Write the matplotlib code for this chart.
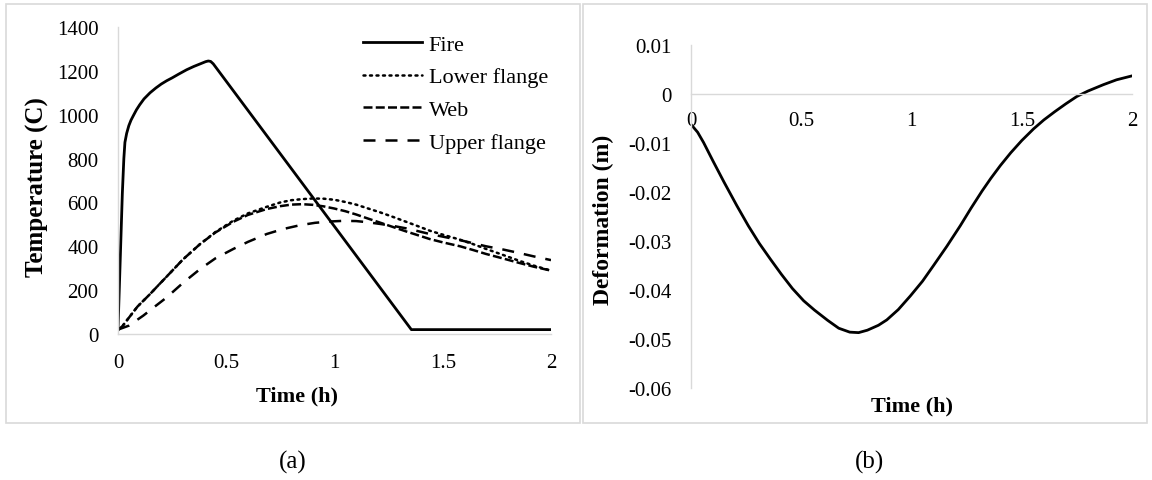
import matplotlib
matplotlib.use("Agg")
import matplotlib.pyplot as plt
from matplotlib.patches import Rectangle

plt.rcParams["font.family"] = ["Liberation Serif", "DejaVu Serif"]

# (a) temperatures
fire_t = [0, 0.01, 0.02, 0.027, 0.032, 0.04, 0.05, 0.06, 0.071, 0.085, 0.1, 0.12, 0.148, 0.175, 0.2,
          0.225, 0.25, 0.28, 0.317, 0.35, 0.38, 0.405, 0.417, 0.428, 0.44, 1.355, 2.0]
fire_T = [20, 330, 640, 800, 874, 915, 950, 975, 996, 1022, 1045, 1072, 1100, 1122, 1140,
          1155, 1168, 1185, 1205, 1220, 1232, 1242, 1245, 1243, 1232, 20, 20]

lower_t = [0, 0.02, 0.04, 0.09, 0.148, 0.19, 0.225, 0.3, 0.379, 0.45, 0.533, 0.6, 0.687, 0.75, 0.8,
           0.85, 0.9, 0.95, 1.0, 1.05, 1.1, 1.15, 1.21, 1.27, 1.33, 1.39, 1.44, 1.5, 1.58, 1.64,
           1.7, 1.78, 1.85, 1.92, 2.0]
lower_T = [20, 35, 61, 125, 182, 226, 262, 340, 410, 465, 517, 550, 580, 600, 610,
           615, 618, 617, 612, 602, 590, 574, 555, 534, 512, 490, 471, 453, 430, 410,
           388, 360, 335, 312, 289]

web_t = [0, 0.02, 0.04, 0.09, 0.148, 0.19, 0.225, 0.3, 0.379, 0.45, 0.533, 0.6, 0.687, 0.75, 0.8,
         0.85, 0.9, 0.95, 1.0, 1.05, 1.1, 1.15, 1.21, 1.27, 1.33, 1.39, 1.44, 1.5, 1.58, 1.64,
         1.7, 1.78, 1.85, 1.92, 2.0]
web_T = [20, 35, 61, 125, 182, 226, 262, 340, 410, 463, 512, 543, 570, 583, 590,
         592, 589, 582, 572, 560, 545, 528, 508, 488, 468, 449, 433, 418, 400, 383,
         365, 344, 325, 307, 289]

upper_t = [0, 0.05, 0.117, 0.17, 0.225, 0.3, 0.379, 0.45, 0.533, 0.6, 0.687, 0.76, 0.84, 0.91,
           0.979, 1.04, 1.1, 1.15, 1.21, 1.27, 1.33, 1.39, 1.44, 1.5, 1.58, 1.64, 1.7, 1.78,
           1.85, 1.92, 2.0]
upper_T = [20, 38, 84, 125, 167, 233, 296, 345, 388, 420, 456, 478, 496, 507,
           513, 516, 515, 510, 502, 493, 482, 468, 456, 444, 428, 414, 400, 385,
           370, 354, 337]

# (b) mid-span deformation
defo_t = [0, 0.03, 0.057, 0.1, 0.15, 0.208, 0.26, 0.31, 0.36, 0.41, 0.46, 0.511, 0.56, 0.62,
          0.67, 0.72, 0.76, 0.8, 0.85, 0.888, 0.94, 0.995, 1.05, 1.1, 1.16, 1.221, 1.27, 1.32,
          1.36, 1.403, 1.45, 1.5, 1.554, 1.6, 1.65, 1.7, 1.75, 1.8, 1.87, 1.93, 2.0]
defo_d = [-0.0062, -0.0078, -0.0099, -0.0137, -0.0180, -0.0228, -0.0269, -0.0305, -0.0337,
          -0.0368, -0.0397, -0.0422, -0.0441, -0.0462, -0.0478, -0.0486, -0.0487, -0.0482,
          -0.0472, -0.0461, -0.0440, -0.0412, -0.0382, -0.0350, -0.0311, -0.0269, -0.0233,
          -0.0198, -0.0172, -0.0146, -0.0120, -0.0095, -0.0071, -0.0053, -0.0036, -0.0020,
          -0.0005, 0.0006, 0.0019, 0.0029, 0.0037]

W, H = 1152, 481
fig = plt.figure(figsize=(W / 100, H / 100), dpi=100)
fig.patch.set_facecolor("white")


def fx(px):
    return px / W


def fy(py):
    return 1 - py / H


GRID = "#d9d9d9"

# panel frames (Excel chart area borders)
for x0, x1 in [(6, 580), (583, 1147)]:
    fig.patches.append(Rectangle((fx(x0), fy(424)), fx(x1 - x0), (424 - 5) / H,
                                 transform=fig.transFigure, fill=False,
                                 edgecolor=GRID, linewidth=1.2))

TICK = 15
LBL = 16

# ---- (a) ----
ax1 = fig.add_axes([fx(118), fy(335), fx(551 - 118), (335 - 28) / H])
lw = 1.8
ax1.plot(fire_t, fire_T, color="black", lw=2.0, label="Fire")
ax1.plot(lower_t, lower_T, color="black", lw=lw, dashes=(0.8, 1.8), dash_capstyle="round",
         label="Lower flange")
ax1.plot(web_t, web_T, color="black", lw=lw, dashes=(3.6, 1.3), label="Web")
ax1.plot(upper_t, upper_T, color="black", lw=lw, dashes=(4.8, 4.0), label="Upper flange")
ax1.set_xlim(0, 2)
ax1.set_ylim(0, 1400)
ax1.set_xticks([0, 0.5, 1, 1.5, 2])
ax1.set_xticklabels(["0", "0.5", "1", "1.5", "2"])
ax1.set_yticks(range(0, 1401, 200))
for s in ["top", "right"]:
    ax1.spines[s].set_visible(False)
for s in ["left", "bottom"]:
    ax1.spines[s].set_color(GRID)
    ax1.spines[s].set_linewidth(1.0)
ax1.tick_params(axis="both", length=0, labelsize=TICK)
ax1.tick_params(axis="y", pad=14)
ax1.tick_params(axis="x", pad=14)
ax1.patch.set_alpha(0)
leg = ax1.legend(loc="upper left", bbox_to_anchor=(fx(363), fy(35)), bbox_transform=fig.transFigure,
                 frameon=False, fontsize=LBL, handlelength=2.65, handletextpad=0.3,
                 labelspacing=0.55, borderpad=0, borderaxespad=0)
fig.text(fx(37), fy(187), "Temperature (C)", rotation=90, ha="center", va="center",
         fontsize=18, fontweight="bold")
fig.text(fx(297), fy(396), "Time (h)", ha="center", va="center", fontsize=LBL, fontweight="bold")

# ---- (b) ----
ax2 = fig.add_axes([fx(691), fy(389), fx(1132 - 691), (389 - 46) / H])
ax2.plot(defo_t, defo_d, color="black", lw=2.0)
ax2.set_xlim(0, 2)
ax2.set_ylim(-0.06, 0.01)
ax2.set_xticks([0, 0.5, 1, 1.5, 2])
ax2.set_xticklabels(["0", "0.5", "1", "1.5", "2"])
ax2.set_yticks([0.01, 0, -0.01, -0.02, -0.03, -0.04, -0.05, -0.06])
ax2.set_yticklabels(["0.01", "0", "-0.01", "-0.02", "-0.03", "-0.04", "-0.05", "-0.06"])
for s in ["top", "right"]:
    ax2.spines[s].set_visible(False)
ax2.spines["bottom"].set_position(("data", 0))
for s in ["left", "bottom"]:
    ax2.spines[s].set_color(GRID)
    ax2.spines[s].set_linewidth(1.0)
ax2.tick_params(axis="both", length=0, labelsize=TICK)
ax2.tick_params(axis="y", pad=14)
ax2.tick_params(axis="x", pad=12)
ax2.patch.set_alpha(0)
fig.text(fx(603), fy(220), "Deformation (m)", rotation=90, ha="center", va="center",
         fontsize=17, fontweight="bold")
fig.text(fx(912), fy(406), "Time (h)", ha="center", va="center", fontsize=LBL, fontweight="bold")

# captions
fig.text(fx(293), fy(462), "(a)", ha="center", va="center", fontsize=18)
fig.text(fx(870), fy(462), "(b)", ha="center", va="center", fontsize=18)

fig.savefig("out.png", dpi=100, facecolor="white")
